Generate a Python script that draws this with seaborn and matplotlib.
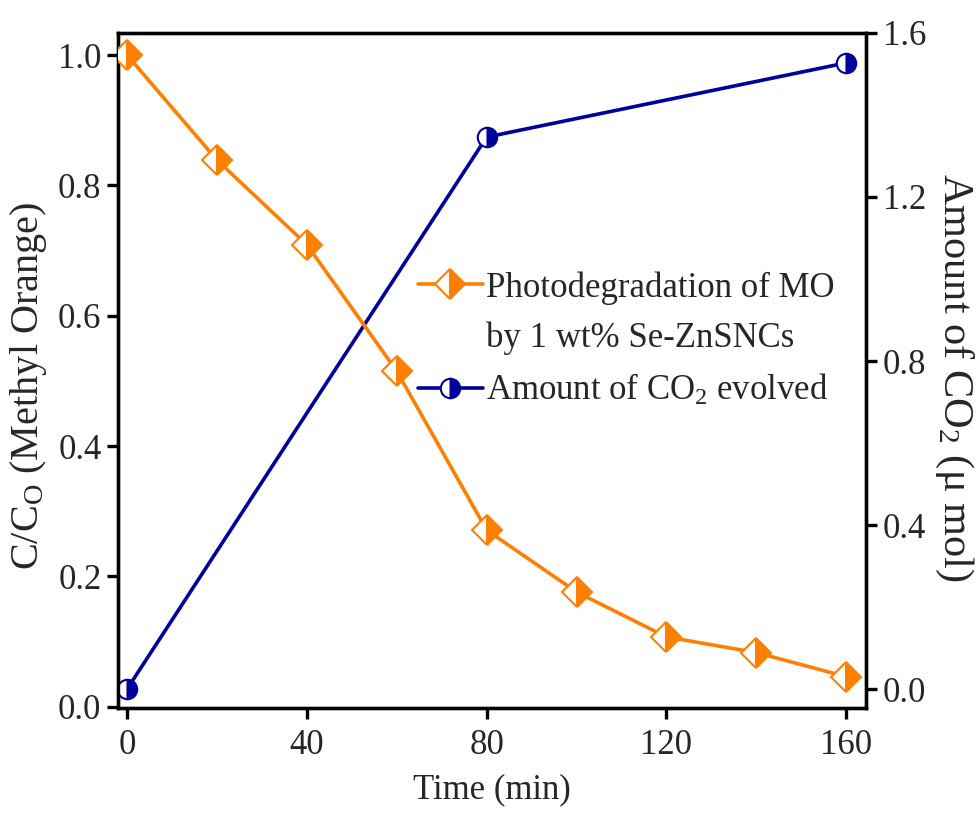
import matplotlib
matplotlib.use("Agg")
import matplotlib.pyplot as plt
import seaborn as sns
import pandas as pd
from matplotlib.lines import Line2D

# ---- data ----
time_mo = [0, 20, 40, 60, 80, 100, 120, 140, 160]
c_ratio = [1.0, 0.839, 0.709, 0.515, 0.271, 0.176, 0.107, 0.083, 0.046]
time_co2 = [0, 80, 160]
co2_amount = [0.0, 1.346, 1.527]

x_ticks = [0, 40, 80, 120, 160]
left_ticks = [0.0, 0.2, 0.4, 0.6, 0.8, 1.0]
right_ticks = [0.0, 0.4, 0.8, 1.2, 1.6]

label_mo_1 = "Photodegradation of MO"
label_mo_2 = "by 1 wt% Se-ZnSNCs"
label_co2 = "Amount of CO$_2$ evolved"

sns.set_theme(style="ticks")
plt.rcParams["font.family"] = ["Liberation Serif", "DejaVu Serif"]
plt.rcParams["mathtext.fontset"] = "custom"
plt.rcParams["mathtext.rm"] = "Liberation Serif"
plt.rcParams["mathtext.it"] = "Liberation Serif:italic"

orange = "#FF8000"
navy = "#00009E"
fs = 25

fig = plt.figure(figsize=(9.78, 8.13), dpi=100)
ax = fig.add_axes([0.1207, 0.1292, 0.7648, 0.8303])
ax2 = ax.twinx()

df_mo = pd.DataFrame({"t": time_mo, "c": c_ratio})
df_co2 = pd.DataFrame({"t": time_co2, "a": co2_amount})

mo_style = dict(color=orange, lw=2.6, marker="D", markersize=15,
                fillstyle="right", markerfacecolor=orange,
                markerfacecoloralt="white", markeredgecolor=orange,
                markeredgewidth=1.5)
co2_style = dict(color=navy, lw=2.6, marker="o", markersize=14,
                 fillstyle="right", markerfacecolor=navy,
                 markerfacecoloralt="white", markeredgecolor=navy,
                 markeredgewidth=1.5)

sns.lineplot(data=df_mo, x="t", y="c", ax=ax, zorder=3, **mo_style)
sns.lineplot(data=df_co2, x="t", y="a", ax=ax2, zorder=3, **co2_style)

ax.set_xlim(-2, 164.4)
ax.set_ylim(-0.002, 1.034)
ax2.set_ylim(-0.046, 1.6)

ax.set_xticks(x_ticks)
ax.set_yticks(left_ticks)
ax2.set_yticks(right_ticks)
ax.set_xticklabels([str(v) for v in x_ticks])
ax.set_yticklabels([f"{v:.1f}" for v in left_ticks])
ax2.set_yticklabels([f"{v:.1f}" for v in right_ticks])

for a in (ax, ax2):
    for s in a.spines.values():
        s.set_linewidth(2.4)
        s.set_color("black")
    a.tick_params(axis="both", which="major", direction="out", length=8,
                  width=2.4, labelsize=fs, color="black", pad=4)

ax.tick_params(axis="x", pad=7)
ax.tick_params(axis="y", right=False)
ax.tick_params(axis="x", top=False)
ax2.tick_params(axis="y", left=False)

ax.set_xlabel("Time (min)", fontsize=fs, labelpad=8)
ax.set_ylabel("C/C$_\\mathrm{O}$ (Methyl Orange)", fontsize=29)
ax.yaxis.set_label_coords(-0.092, 0.477)
ax2.set_ylabel("Amount of CO$_2$ (\u03bc mol)", fontsize=30.5, rotation=-90,
               va="center")
ax2.yaxis.set_label_coords(1.118, 0.49)

handles = [
    Line2D([], [], **mo_style),
    Line2D([], [], linestyle="none"),
    Line2D([], [], **co2_style),
]
leg = ax.legend(handles, [label_mo_1, label_mo_2, label_co2], loc="upper left",
                bbox_to_anchor=(0.41, 0.688), bbox_transform=fig.transFigure,
                frameon=False, fontsize=fs, handlelength=1.85,
                handletextpad=0.1, labelspacing=0.5, borderpad=0)
ax.set_zorder(ax2.get_zorder() + 1)
ax.patch.set_visible(False)

fig.savefig("out.png", dpi=100)
